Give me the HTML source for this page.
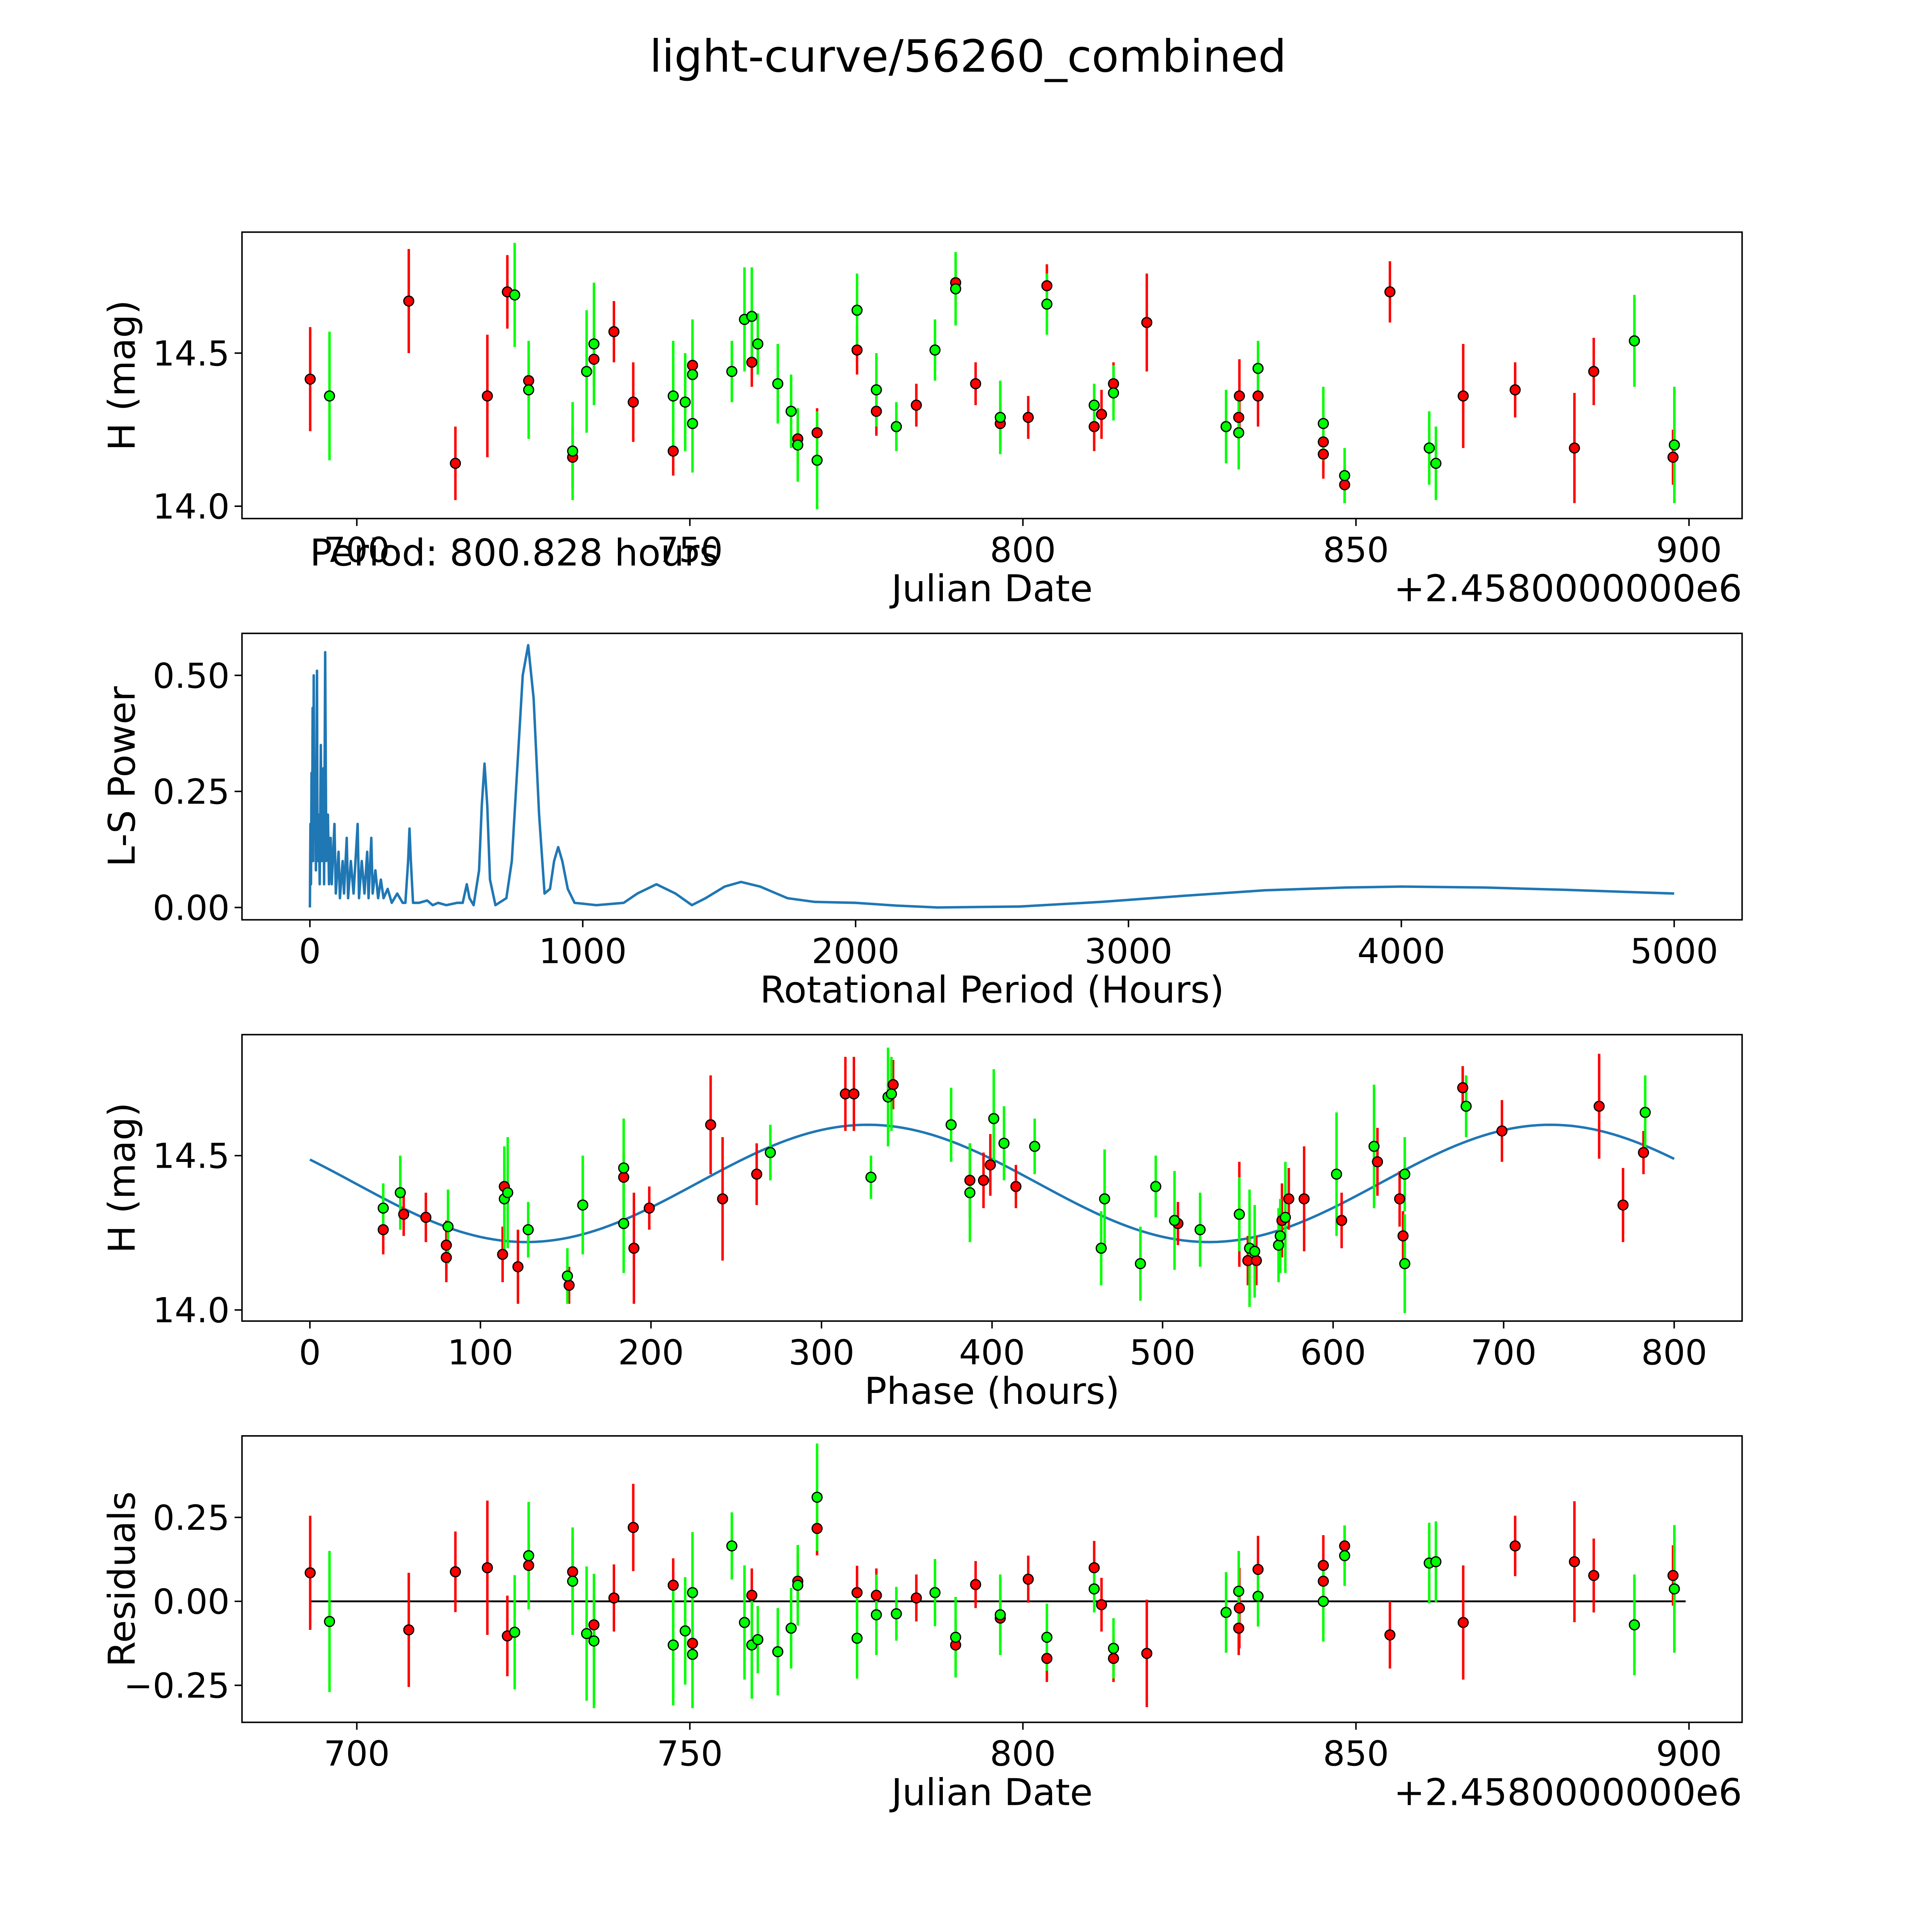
<!DOCTYPE html>
<html><head><meta charset="utf-8"><style>
html,body{margin:0;padding:0;background:#fff;overflow:hidden}
svg{display:block}
text{font-family:"DejaVu Sans","Liberation Sans",sans-serif;fill:#000}
</style></head><body>
<svg id="fig" xmlns="http://www.w3.org/2000/svg" width="5400" height="5400" viewBox="0 0 1690 1690" preserveAspectRatio="xMinYMin meet">
<rect width="1690" height="1690" fill="#fff"/>
<text x="784" y="58" font-size="36" text-anchor="middle">light-curve/56260_combined</text>
<g id="g1"></g>
<g id="g2"></g>
<g id="g3"></g>
<g id="g4"></g>
</svg>
<script>
// ---- light curve data ----
const redDays=[693,707.8,714.8,719.6,722.6,725.8,732.4,735.6,738.6,741.5,747.5,750.4,759.3,766.2,769.1,775.1,778.0,784,789.9,792.9,796.6,800.8,803.6,810.7,811.8,813.6,818.6,832.5,832.4,835.3,845.1,845.1,848.3,855.1,866.1,873.9,882.8,885.7,897.6];
const redMag=[14.415,14.67,14.14,14.36,14.70,14.41,14.16,14.48,14.57,14.34,14.18,14.46,14.47,14.22,14.24,14.51,14.31,14.33,14.73,14.40,14.27,14.29,14.72,14.26,14.30,14.40,14.60,14.36,14.29,14.36,14.21,14.17,14.07,14.70,14.36,14.38,14.19,14.44,14.16];
const redErr=[0.17,0.17,0.12,0.2,0.12,0.08,0.1,0.09,0.1,0.13,0.08,0.08,0.08,0.08,0.08,0.08,0.08,0.07,0.08,0.07,0.07,0.07,0.07,0.08,0.08,0.07,0.16,0.12,0.08,0.1,0.09,0.08,0.06,0.1,0.17,0.09,0.18,0.11,0.09];
const redRes=[0.085,-0.085,0.088,0.1,-0.103,0.107,0.088,-0.07,0.01,0.22,0.048,-0.125,0.018,0.06,0.217,0.026,0.018,0.01,-0.13,0.05,-0.05,0.066,-0.17,0.1,-0.01,-0.17,-0.155,-0.02,-0.08,0.095,0.107,0.06,0.165,-0.1,-0.063,0.165,0.118,0.077,0.077];
const greenDays=[695.9,723.7,725.8,732.4,734.5,735.6,747.5,749.3,750.4,750.4,756.3,758.2,759.3,760.2,763.2,765.2,766.2,769.1,775.1,778,781,786.8,789.9,796.6,803.6,810.7,813.6,830.5,832.4,835.3,845.1,848.3,861,862,891.8,897.8];
const greenMag=[14.36,14.69,14.38,14.18,14.44,14.53,14.36,14.34,14.43,14.27,14.44,14.61,14.62,14.53,14.40,14.31,14.20,14.15,14.64,14.38,14.26,14.51,14.71,14.29,14.66,14.33,14.37,14.26,14.24,14.45,14.27,14.10,14.19,14.14,14.54,14.20];
const greenErr=[0.21,0.17,0.16,0.16,0.2,0.2,0.18,0.16,0.18,0.16,0.1,0.17,0.16,0.1,0.13,0.12,0.12,0.16,0.12,0.12,0.08,0.1,0.12,0.12,0.1,0.07,0.09,0.12,0.12,0.09,0.12,0.09,0.12,0.12,0.15,0.19];
const greenRes=[-0.06,-0.092,0.136,0.06,-0.096,-0.118,-0.13,-0.088,0.026,-0.158,0.165,-0.063,-0.13,-0.114,-0.15,-0.08,0.048,0.31,-0.11,-0.04,-0.037,0.026,-0.107,-0.04,-0.107,0.037,-0.14,-0.033,0.03,0.015,0,0.136,0.114,0.118,-0.07,0.037];
// ---- phased data ----
const redPhase=[43,55,68,80,80,113,114,122,152,184,190,199,235,242,262,314,319,342,387,395,399,414,509,545,550,555,570,574,583,605,626,639,641,676,699,756,770,782];
const redPhaseMag=[14.26,14.31,14.30,14.21,14.17,14.18,14.40,14.14,14.08,14.43,14.20,14.33,14.60,14.36,14.44,14.70,14.70,14.73,14.42,14.42,14.47,14.40,14.28,14.31,14.16,14.16,14.29,14.36,14.36,14.29,14.48,14.36,14.24,14.72,14.58,14.66,14.34,14.51];
const redPhaseErr=[0.08,0.07,0.08,0.08,0.08,0.09,0.07,0.12,0.06,0.08,0.18,0.07,0.16,0.2,0.1,0.12,0.12,0.08,0.12,0.09,0.1,0.07,0.07,0.17,0.08,0.08,0.12,0.1,0.17,0.09,0.11,0.09,0.08,0.07,0.1,0.17,0.12,0.07];
const greenPhase=[43,53,81,114,116,128,151,160,184,184,270,329,339,341,376,387,401,407,425,464,466,487,496,507,522,545,551,554,568,569,572,602,624,642,642,678,783];
const greenPhaseMag=[14.33,14.38,14.27,14.36,14.38,14.26,14.11,14.34,14.28,14.46,14.51,14.43,14.69,14.70,14.60,14.38,14.62,14.54,14.53,14.20,14.36,14.15,14.40,14.29,14.26,14.31,14.20,14.19,14.21,14.24,14.30,14.44,14.53,14.44,14.15,14.66,14.64];
const greenPhaseErr=[0.08,0.12,0.12,0.17,0.18,0.09,0.09,0.16,0.16,0.16,0.09,0.07,0.16,0.12,0.12,0.16,0.16,0.12,0.09,0.12,0.16,0.12,0.1,0.16,0.12,0.12,0.19,0.15,0.12,0.12,0.18,0.2,0.2,0.12,0.16,0.1,0.12];
// ---- periodogram ----
const lsPeriod=[0,2,4,6,8,10,12,14,16,20,22,26,28,32,36,40,44,50,52,56,60,66,70,76,80,90,95,105,110,120,125,135,140,150,160,175,180,190,200,210,215,225,230,240,250,260,270,285,300,320,340,350,360,365,370,378,400,430,450,470,500,540,560,575,585,600,620,630,640,650,660,680,720,740,760,780,800,820,840,860,880,895,910,925,945,970,1050,1150,1200,1270,1340,1400,1450,1520,1580,1650,1750,1850,2000,2150,2300,2600,2900,3200,3500,3800,4000,4300,4600,5000];
const lsPower=[0,0.18,0.05,0.29,0.1,0.43,0.1,0.5,0.15,0.3,0.08,0.51,0.1,0.2,0.05,0.35,0.1,0.3,0.05,0.55,0.1,0.2,0.05,0.15,0.05,0.18,0.03,0.12,0.02,0.1,0.03,0.15,0.02,0.1,0.03,0.18,0.02,0.1,0.03,0.12,0.02,0.15,0.03,0.08,0.02,0.06,0.02,0.04,0.01,0.03,0.01,0.01,0.1,0.17,0.1,0.01,0.01,0.015,0.005,0.01,0.005,0.01,0.01,0.05,0.02,0.005,0.08,0.22,0.31,0.22,0.06,0.005,0.02,0.1,0.3,0.5,0.565,0.45,0.2,0.03,0.04,0.1,0.13,0.1,0.04,0.01,0.005,0.01,0.03,0.05,0.03,0.005,0.02,0.045,0.055,0.045,0.02,0.012,0.01,0.004,0,0.002,0.012,0.025,0.037,0.043,0.045,0.043,0.038,0.03];
const periodHours=800.828;
const fitMean=14.41, fitAmp=0.19, fitPeak=327;
const dayTicks=[700,750,800,850,900];
const magTicks=[14.0,14.5];
const lsXTicks=[0,1000,2000,3000,4000,5000];
const lsYTicks=[0,0.25,0.5];
const phaseTicks=[0,100,200,300,400,500,600,700,800];
const resTicks=[-0.25,0,0.25];

const NS="http://www.w3.org/2000/svg";
function mk(parent,tag,attrs){const e=document.createElementNS(NS,tag);for(const k in attrs)e.setAttribute(k,attrs[k]);parent.appendChild(e);return e;}
function lin(d0,d1,r0,r1){return v=>r0+(v-d0)*(r1-r0)/(d1-d0);}
const L=196,R=1411;
function frame(g,top,bot,xs,ys,xt,yt,xfmt,yfmt,xlabel,ylabel,offset){
  const f=mk(g,'rect',{x:L,y:top,width:R-L,height:bot-top,fill:'none',stroke:'#000','stroke-width':1.2});
  
  xt.forEach(v=>{const x=xs(v);mk(g,'line',{x1:x,x2:x,y1:bot,y2:bot+6,stroke:'#000','stroke-width':1.2});
    const t=mk(g,'text',{x:x,y:bot+35,'font-size':28,'text-anchor':'middle'});t.textContent=xfmt(v);
    });
  yt.forEach(v=>{const y=ys(v);mk(g,'line',{x1:L,x2:L-6,y1:y,y2:y,stroke:'#000','stroke-width':1.2});
    const t=mk(g,'text',{x:L-10,y:y+10,'font-size':28,'text-anchor':'end'});t.textContent=yfmt(v);
    });
  const xl=mk(g,'text',{x:(L+R)/2,y:bot+67,'font-size':30,'text-anchor':'middle'});xl.textContent=xlabel;
  
  const yl=mk(g,'text',{x:0,y:0,'font-size':30,'text-anchor':'middle',transform:`translate(109,${(top+bot)/2}) rotate(-90)`});yl.textContent=ylabel;
  
  if(offset){const o=mk(g,'text',{x:R,y:bot+67,'font-size':30,'text-anchor':'end'});o.textContent=offset;
    }
}
function pts(g,xs,ys,X,Y,E,color){
  X.forEach((v,i)=>{const l=mk(g,'line',{x1:xs(v),x2:xs(v),y1:ys(Y[i]-E[i]),y2:ys(Y[i]+E[i]),stroke:color,'stroke-width':2});
    });
}
function dots(g,xs,ys,X,Y,color){
  X.forEach((v,i)=>{const c=mk(g,'circle',{cx:xs(v),cy:ys(Y[i]),r:4,fill:color,stroke:'#000','stroke-width':1});
    });
}
const f2=v=>v.toFixed(2).replace('-','\u2212');
const model=p=>fitMean+fitAmp*Math.cos(2*Math.PI*2*(p-fitPeak)/periodHours);

// panel 1
const g1=document.getElementById('g1');
const dx=lin(700,900,289,1368);
const my1=lin(14.0,14.5,410,286);
frame(g1,188,420,dx,my1,dayTicks,magTicks,v=>v,v=>v.toFixed(1),'Julian Date','H (mag)','+2.4580000000e6');
pts(g1,dx,my1,redDays,redMag,redErr,'#ff0000');pts(g1,dx,my1,greenDays,greenMag,greenErr,'#00ff00');
dots(g1,dx,my1,redDays,redMag,'#ff0000');dots(g1,dx,my1,greenDays,greenMag,'#00ff00');
const pt=mk(g1,'text',{x:251,y:458,'font-size':30});pt.textContent='Period: 800.828 hours';


// panel 2
const g2=document.getElementById('g2');
const px2=lin(0,5000,251,1356), py2=lin(0,0.5,735,547);
frame(g2,513,745,px2,py2,lsXTicks,lsYTicks,v=>v,f2,'Rotational Period (Hours)','L-S Power');
const pl=mk(g2,'path',{d:lsPeriod.map((p,i)=>(i?'L':'M')+px2(p).toFixed(2)+','+py2(lsPower[i]).toFixed(2)).join(''),fill:'none',stroke:'#1f77b4','stroke-width':2,'stroke-linejoin':'round'});


// panel 3
const g3=document.getElementById('g3');
const px3=lin(0,800,251,1356), my3=lin(14.0,14.5,1061,936);
frame(g3,838,1070,px3,my3,phaseTicks,magTicks,v=>v,v=>v.toFixed(1),'Phase (hours)','H (mag)');
let d='';for(let p=0;p<=periodHours;p+=4){d+=(p?'L':'M')+px3(p).toFixed(2)+','+my3(model(p)).toFixed(2);}
const ml=mk(g3,'path',{d:d,fill:'none',stroke:'#1f77b4','stroke-width':2});

pts(g3,px3,my3,redPhase,redPhaseMag,redPhaseErr,'#ff0000');pts(g3,px3,my3,greenPhase,greenPhaseMag,greenPhaseErr,'#00ff00');
dots(g3,px3,my3,redPhase,redPhaseMag,'#ff0000');dots(g3,px3,my3,greenPhase,greenPhaseMag,'#00ff00');

// panel 4
const g4=document.getElementById('g4');
const ry=lin(0,0.25,1297,1229);
frame(g4,1163,1395,dx,ry,dayTicks,resTicks,v=>v,f2,'Julian Date','Residuals','+2.4580000000e6');
const zl=mk(g4,'line',{x1:dx(693),x2:dx(899.5),y1:ry(0),y2:ry(0),stroke:'#000','stroke-width':1.5});

pts(g4,dx,ry,redDays,redRes,redErr,'#ff0000');pts(g4,dx,ry,greenDays,greenRes,greenErr,'#00ff00');
dots(g4,dx,ry,redDays,redRes,'#ff0000');dots(g4,dx,ry,greenDays,greenRes,'#00ff00');
</script>
</body></html>
